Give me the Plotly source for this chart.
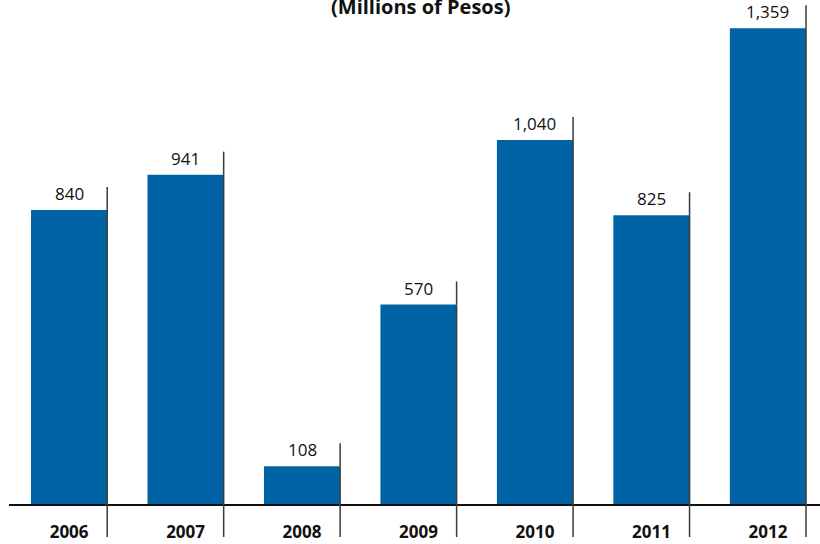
import plotly.graph_objects as go

years = ["2006", "2007", "2008", "2009", "2010", "2011", "2012"]
values = [840, 941, 108, 570, 1040, 825, 1359]
labels = ["840", "941", "108", "570", "1,040", "825", "1,359"]
title_text = "(Millions of Pesos)"

BAR_W = 0.654
xs = list(range(len(years)))
LINE = dict(color="#3a3a3a", width=1.5)

fig = go.Figure()
fig.add_trace(go.Bar(
    x=xs, y=values, width=BAR_W,
    marker=dict(color="#0063A5", line=dict(width=0)),
    hoverinfo="skip",
))

shapes = []
for i, v in zip(xs, values):
    xe = i + BAR_W / 2
    # along the bar
    shapes.append(dict(type="line", xref="x", yref="y", x0=xe, x1=xe,
                       y0=0, y1=v, line=LINE))
    # above the bar
    shapes.append(dict(type="line", xref="x", yref="y", ysizemode="pixel",
                       yanchor=v, x0=xe, x1=xe, y0=0, y1=23, line=LINE))
    # below the axis
    shapes.append(dict(type="line", xref="x", yref="paper", ysizemode="pixel",
                       yanchor=0, x0=xe, x1=xe, y0=-33, y1=0, line=LINE))

annotations = []
for i, v, t in zip(xs, values, labels):
    annotations.append(dict(
        x=i, y=v, xref="x", yref="y", text=t, showarrow=False,
        yanchor="bottom", yshift=3,
        font=dict(family="Open Sans", size=17, color="#111111"),
    ))
annotations.append(dict(
    x=0.507, y=1, xref="paper", yref="paper", text="<b>" + title_text + "</b>",
    showarrow=False, xanchor="center", yanchor="bottom", yshift=-22,
    font=dict(family="Open Sans", size=20, color="#111111"),
))

fig.update_layout(
    width=820, height=544,
    margin=dict(l=9, r=0, t=0, b=40),
    paper_bgcolor="white", plot_bgcolor="white",
    showlegend=False,
    shapes=shapes, annotations=annotations,
    xaxis=dict(
        range=[-0.516, 6.447],
        tickmode="array", tickvals=xs,
        ticktext=["<b>" + y + "</b>" for y in years],
        tickfont=dict(family="Open Sans", size=17, color="#111111"),
        ticklabelstandoff=12,
        showline=True, linecolor="#111111", linewidth=2,
        ticks="", showgrid=False, zeroline=False, fixedrange=True,
    ),
    yaxis=dict(
        range=[0, 1440], visible=False, showgrid=False, zeroline=False,
        fixedrange=True,
    ),
)

fig.write_html("out.html", config={"displayModeBar": False},
               post_script="document.body.style.margin='0px';")
